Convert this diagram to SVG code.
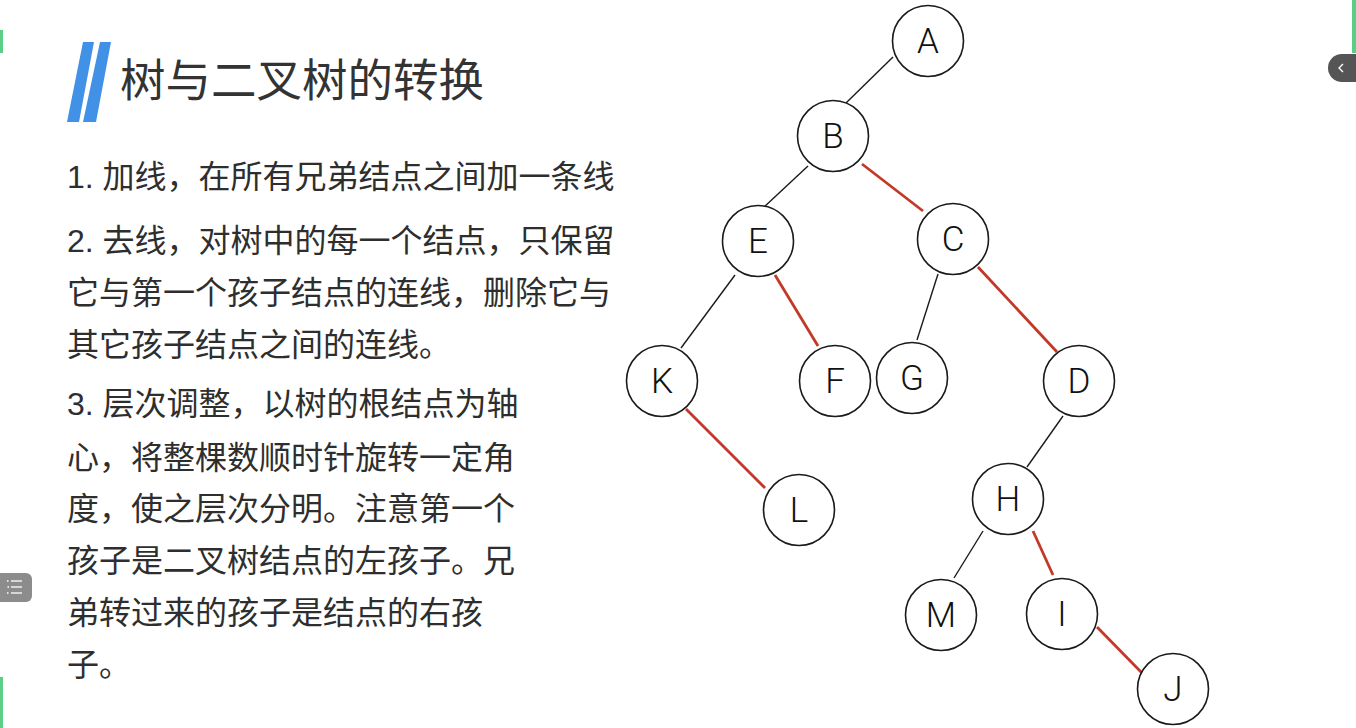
<svg xmlns="http://www.w3.org/2000/svg" width="1356" height="728" viewBox="0 0 1356 728">
<style>
.bg{fill:#ffffff}
.title{font-family:"Liberation Sans","Noto Sans CJK SC",sans-serif;font-size:45.5px;fill:#333333}
.body{font-family:"Liberation Sans","Noto Sans CJK SC",sans-serif;font-size:32px;fill:#2e2e2e}
.node circle{fill:#ffffff;stroke:#1a1a1a;stroke-width:1.6}
.node text{font-family:"Roboto","Liberation Sans",sans-serif;font-weight:300;font-size:35px;fill:#111111;text-anchor:middle}
.blk{stroke:#1a1a1a;stroke-width:1.4;fill:none}
.red{stroke:#c23a27;stroke-width:2.8;fill:none}
.slash{fill:#4191e6}
.green{fill:#5cce87}
</style>
<rect class="bg" x="0" y="0" width="1356" height="728"/>

<!-- side decorations -->
<rect class="green" x="0" y="30" width="3" height="23"/>
<rect class="green" x="0" y="677" width="3" height="51"/>
<rect class="green" x="1352" y="0" width="4" height="53"/>
<path d="M1342 54 H1356 V82 H1342 A14 14 0 0 1 1342 54 Z" fill="#555555"/>
<path d="M1343 64 L1339 68 L1343 72" stroke="#ffffff" stroke-width="1.4" fill="none"/>
<path d="M0 573 H26 A6 6 0 0 1 32 579 V596 A6 6 0 0 1 26 602 H0 Z" fill="#8c8c8c"/>
<g stroke="#ffffff" stroke-width="1.3">
<line x1="11" y1="581" x2="22" y2="581"/>
<line x1="11" y1="587" x2="22" y2="587"/>
<line x1="11" y1="593" x2="22" y2="593"/>
<line x1="7" y1="581" x2="8.5" y2="581"/>
<line x1="7.5" y1="587" x2="9" y2="587"/>
<line x1="7" y1="593" x2="8.5" y2="593"/>
</g>

<!-- title -->
<g id="title">
<polygon class="slash" points="83,42 94,42 79,122 67,122"/>
<polygon class="slash" points="100,42 111,42 96,122 83,122"/>
<text class="title" x="120" y="97">树与二叉树的转换</text>
</g>

<!-- body text -->
<g id="body">
<text class="body" x="67" y="188">1. 加线，在所有兄弟结点之间加一条线</text>
<text class="body" x="67" y="252">2. 去线，对树中的每一个结点，只保留</text>
<text class="body" x="67" y="304">它与第一个孩子结点的连线，删除它与</text>
<text class="body" x="67" y="356">其它孩子结点之间的连线。</text>
<text class="body" x="67" y="415">3. 层次调整，以树的根结点为轴</text>
<text class="body" x="67" y="469">心，将整棵数顺时针旋转一定角</text>
<text class="body" x="67" y="520">度，使之层次分明。注意第一个</text>
<text class="body" x="67" y="572">孩子是二叉树结点的左孩子。兄</text>
<text class="body" x="67" y="624">弟转过来的孩子是结点的右孩</text>
<text class="body" x="67" y="676">子。</text>
</g>

<!-- connectors -->
<g id="connectors">
<line class="blk" x1="893" y1="57" x2="846" y2="103"/>
<line class="blk" x1="808" y1="166" x2="763" y2="208"/>
<line class="red" x1="862" y1="164" x2="923" y2="211"/>
<line class="blk" x1="735" y1="275" x2="681" y2="348"/>
<line class="red" x1="775" y1="275" x2="818" y2="346"/>
<line class="blk" x1="938" y1="274" x2="917" y2="340"/>
<line class="red" x1="978" y1="267" x2="1057" y2="352"/>
<line class="red" x1="686" y1="409" x2="765" y2="488"/>
<line class="blk" x1="1063" y1="416" x2="1027" y2="467"/>
<line class="blk" x1="983" y1="531" x2="954" y2="578"/>
<line class="red" x1="1033" y1="531" x2="1053" y2="575"/>
<line class="red" x1="1097" y1="627" x2="1142" y2="673"/>
</g>

<!-- nodes -->
<g id="node-A" class="node"><circle cx="928" cy="41" r="35.5"/><text x="928" y="53">A</text></g>
<g id="node-B" class="node"><circle cx="833" cy="136" r="35.5"/><text x="833" y="148">B</text></g>
<g id="node-E" class="node"><circle cx="758" cy="241" r="35.5"/><text x="758" y="253">E</text></g>
<g id="node-C" class="node"><circle cx="953" cy="239" r="35.5"/><text x="953" y="251">C</text></g>
<g id="node-K" class="node"><circle cx="662" cy="381" r="35.5"/><text x="662" y="393">K</text></g>
<g id="node-F" class="node"><circle cx="835" cy="381" r="35.5"/><text x="835" y="393">F</text></g>
<g id="node-G" class="node"><circle cx="912" cy="378" r="35.5"/><text x="912" y="390">G</text></g>
<g id="node-D" class="node"><circle cx="1079" cy="381" r="35.5"/><text x="1079" y="393">D</text></g>
<g id="node-L" class="node"><circle cx="799" cy="510" r="35.5"/><text x="799" y="522">L</text></g>
<g id="node-H" class="node"><circle cx="1008" cy="499" r="35.5"/><text x="1008" y="511">H</text></g>
<g id="node-M" class="node"><circle cx="941" cy="615" r="35.5"/><text x="941" y="627">M</text></g>
<g id="node-I" class="node"><circle cx="1062" cy="614" r="35.5"/><text x="1062" y="626">I</text></g>
<g id="node-J" class="node"><circle cx="1173" cy="689" r="35.5"/><text x="1173" y="701">J</text></g>
</svg>
